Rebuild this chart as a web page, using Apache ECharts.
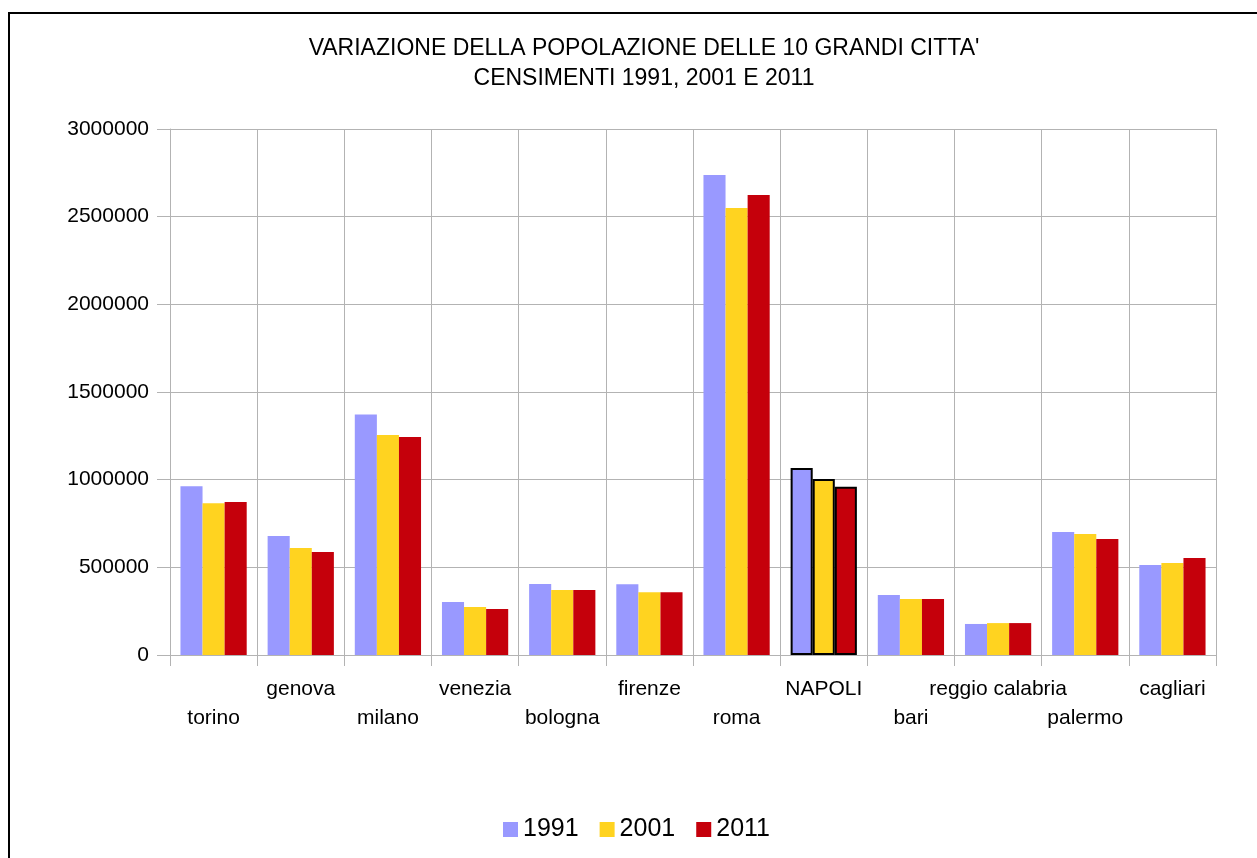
<!DOCTYPE html>
<html>
<head>
<meta charset="utf-8">
<script src="https://cdn.jsdelivr.net/npm/echarts@6/dist/echarts.min.js"></script>
<style>html,body{margin:0;padding:0;background:#fff}#c{width:1257px;height:858px}</style>
</head>
<body>
<div id="c"></div>
<script>
const categories = ['torino','genova','milano','venezia','bologna','firenze','roma','NAPOLI','bari','reggio calabria','palermo','cagliari'];
const seriesNames = ['1991','2001','2011'];
const values1991 = [963000, 679000, 1372000, 302000, 405000, 403000, 2737000, 1066000, 342000, 177000, 701000, 513000];
const values2001 = [865000, 610000, 1255000, 274000, 371000, 358000, 2549000, 1004000, 319000, 182000, 690000, 525000];
const values2011 = [872000, 587000, 1243000, 262000, 371000, 358000, 2623000, 960000, 319000, 182000, 662000, 553000];
const yTicks = [0, 500000, 1000000, 1500000, 2000000, 2500000, 3000000];
const colors = ['#9999ff', '#ffd320', '#c5000b'];
const highlight = 'NAPOLI';

const FONT = 'Liberation Sans, Arial, sans-serif';
function mk(vals) {
  return vals.map((v, i) => categories[i] === highlight
    ? { value: v, itemStyle: { borderColor: '#000', borderWidth: 2 } }
    : v);
}
const chart = echarts.init(document.getElementById('c'), null, { renderer: 'canvas' });
chart.setOption({
  animation: false,
  backgroundColor: '#fff',
  color: colors,
  title: {
    text: "VARIAZIONE DELLA POPOLAZIONE DELLE 10 GRANDI CITTA'\nCENSIMENTI 1991, 2001 E 2011",
    left: 639, top: 29, textAlign: 'center',
    textStyle: { fontFamily: FONT, fontSize: 23, fontWeight: 'normal', color: '#000', lineHeight: 30 }
  },
  legend: {
    data: seriesNames, bottom: 11, left: 498,
    icon: 'rect', itemWidth: 15, itemHeight: 15, itemGap: 21,
    textStyle: { fontFamily: FONT, fontSize: 25, color: '#000' }
  },
  grid: { left: 170, right: 41, top: 129, bottom: 203, containLabel: false },
  xAxis: {
    type: 'category', data: categories,
    axisLine: { lineStyle: { color: '#b3b3b3', width: 1 } },
    axisTick: { show: true, length: 11, interval: 0, lineStyle: { color: '#b3b3b3' } },
    splitLine: { show: true, interval: 0, lineStyle: { color: '#b3b3b3', width: 1 } },
    axisLabel: {
      interval: 0, margin: 20, color: '#000', fontFamily: FONT, fontSize: 21, lineHeight: 29,
      formatter: (v, i) => (i % 2 === 0 ? '\n' + v : v)
    }
  },
  yAxis: {
    type: 'value', min: 0, max: 3000000, interval: 500000,
    axisLine: { show: true, lineStyle: { color: '#b3b3b3', width: 1 } },
    axisTick: { show: true, length: 13, lineStyle: { color: '#b3b3b3' } },
    splitLine: { show: true, lineStyle: { color: '#b3b3b3', width: 1 } },
    axisLabel: { margin: 21, color: '#000', fontFamily: FONT, fontSize: 21,
      formatter: v => String(v) }
  },
  series: [
    { name: seriesNames[0], type: 'bar', data: mk(values1991), barGap: '0%', barCategoryGap: '24%' },
    { name: seriesNames[1], type: 'bar', data: mk(values2001), barGap: '0%', barCategoryGap: '24%' },
    { name: seriesNames[2], type: 'bar', data: mk(values2011), barGap: '0%', barCategoryGap: '24%' }
  ],
  graphic: [{
    type: 'rect', silent: true, z: 100,
    shape: { x: 9, y: 13, width: 1400, height: 1000 },
    style: { fill: 'none', stroke: '#000', lineWidth: 2 }
  }]
});
</script>
</body>
</html>
